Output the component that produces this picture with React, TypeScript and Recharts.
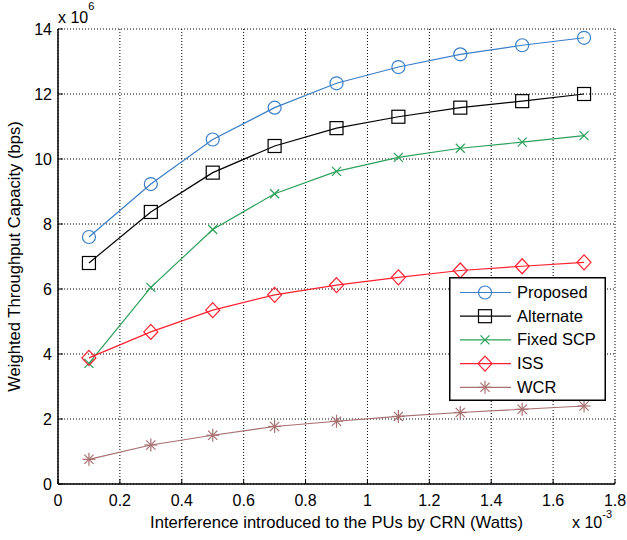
import React from 'react';
import {
    LineChart,
    Line,
    XAxis,
    YAxis,
    CartesianGrid,
} from 'recharts';

const interference = [0.1, 0.3, 0.5, 0.7, 0.9, 1.1, 1.3, 1.5, 1.7];
const proposed = [7.6, 9.23, 10.6, 11.58, 12.33, 12.83, 13.22, 13.5, 13.73];
const alternate = [6.8, 8.37, 9.58, 10.4, 10.95, 11.3, 11.58, 11.78, 12.0];
const fixedScp = [3.71, 6.05, 7.83, 8.93, 9.62, 10.05, 10.33, 10.52, 10.72];
const iss = [3.88, 4.68, 5.35, 5.82, 6.12, 6.36, 6.57, 6.7, 6.82];
const wcr = [0.76, 1.2, 1.5, 1.77, 1.93, 2.08, 2.2, 2.3, 2.4];

const xTicks = [0, 0.2, 0.4, 0.6, 0.8, 1, 1.2, 1.4, 1.6, 1.8];
const yTicks = [0, 2, 4, 6, 8, 10, 12, 14];

const FONT = '"Liberation Sans", Arial, sans-serif';

const series = [
    { key: 'proposed', name: 'Proposed', color: '#3a7fc8', shape: 'circle' },
    { key: 'alternate', name: 'Alternate', color: '#000000', shape: 'square' },
    { key: 'fixedScp', name: 'Fixed SCP', color: '#2ca05a', shape: 'x' },
    { key: 'iss', name: 'ISS', color: '#ff2030', shape: 'diamond' },
    { key: 'wcr', name: 'WCR', color: '#a87070', shape: 'star' },
];

const data = interference.map((x, i) => ({
    x,
    proposed: proposed[i],
    alternate: alternate[i],
    fixedScp: fixedScp[i],
    iss: iss[i],
    wcr: wcr[i],
}));

// marker glyph centred on (cx, cy)
const Marker = ({ shape, cx, cy, color }: { shape: string; cx: number; cy: number; color: string }) => {
    const sw = 1.2;
    if (shape === 'circle') {
        return <circle cx={cx} cy={cy} r={6.5} fill="none" stroke={color} strokeWidth={sw} />;
    }
    if (shape === 'square') {
        return <rect x={cx - 6.5} y={cy - 6.5} width={13} height={13} fill="none" stroke={color} strokeWidth={sw} />;
    }
    if (shape === 'diamond') {
        return (
            <polygon
                points={`${cx},${cy - 7.5} ${cx + 7},${cy} ${cx},${cy + 7.5} ${cx - 7},${cy}`}
                fill="none"
                stroke={color}
                strokeWidth={sw}
            />
        );
    }
    if (shape === 'x') {
        const d = 4.5;
        return (
            <g stroke={color} strokeWidth={sw}>
                <line x1={cx - d} y1={cy - d} x2={cx + d} y2={cy + d} />
                <line x1={cx - d} y1={cy + d} x2={cx + d} y2={cy - d} />
            </g>
        );
    }
    // star: plus and cross together
    const r = 6.5;
    const d = 4.6;
    return (
        <g stroke={color} strokeWidth={sw}>
            <line x1={cx - r} y1={cy} x2={cx + r} y2={cy} />
            <line x1={cx} y1={cy - r} x2={cx} y2={cy + r} />
            <line x1={cx - d} y1={cy - d} x2={cx + d} y2={cy + d} />
            <line x1={cx - d} y1={cy + d} x2={cx + d} y2={cy - d} />
        </g>
    );
};

const makeDot = (shape: string, color: string) => (props: any) => {
    const { cx, cy, index } = props;
    if (cx == null || cy == null) return <g key={`d-${index}`} />;
    return (
        <g key={`${shape}-${index}`}>
            <Marker shape={shape} cx={cx} cy={cy} color={color} />
        </g>
    );
};

const LegendBox = () => {
    const w = 157;
    const h = 124;
    const rowH = 23.7;
    return (
        <svg width={w} height={h} style={{ display: 'block' }}>
            <rect x={0.75} y={0.75} width={w - 1.5} height={h - 1.5} fill="#fff" stroke="#000" strokeWidth={1.5} />
            {series.map((s, i) => {
                const y = 15.5 + i * rowH;
                return (
                    <g key={s.key}>
                        <line x1={11} y1={y} x2={62} y2={y} stroke={s.color} strokeWidth={1.2} />
                        <Marker shape={s.shape} cx={36} cy={y} color={s.color} />
                        <text x={68} y={y + 5.5} fontSize={16.5} fontFamily={FONT} fill="#000">
                            {s.name}
                        </text>
                    </g>
                );
            })}
        </svg>
    );
};

const tickStyle = { fontSize: 16, fontFamily: FONT, fill: '#000' };
const labelStyle = { fontSize: 16.6, fontFamily: FONT, fill: '#000', textAnchor: 'middle' };

export default function App() {
    return (
        <div style={{ position: 'absolute', left: 0, top: 0, width: 627, height: 540, background: '#fff' }}>
            <LineChart
                width={627}
                height={540}
                data={data}
                margin={{ top: 29, right: 12, left: 0, bottom: 0 }}
            >
                <CartesianGrid stroke="#000" strokeDasharray="1 2" strokeWidth={1} />
                <XAxis
                    dataKey="x"
                    type="number"
                    domain={[0, 1.8]}
                    ticks={xTicks}
                    tickFormatter={(v) => String(v)}
                    height={56}
                    tick={tickStyle}
                    tickSize={-5}
                    tickMargin={16}
                    tickLine={{ stroke: '#000' }}
                    axisLine={{ stroke: '#000', strokeWidth: 1.5 }}
                    interval={0}
                    label={{
                        value: 'Interference introduced to the PUs by CRN (Watts)',
                        position: 'insideBottom',
                        offset: 12,
                        style: labelStyle,
                    }}
                />
                <XAxis
                    xAxisId="top"
                    dataKey="x"
                    type="number"
                    orientation="top"
                    domain={[0, 1.8]}
                    ticks={xTicks}
                    tickFormatter={() => ''}
                    height={0}
                    tickSize={-5}
                    tickLine={{ stroke: '#000' }}
                    axisLine={{ stroke: '#000', strokeWidth: 1.5 }}
                    interval={0}
                />
                <YAxis
                    type="number"
                    domain={[0, 14]}
                    ticks={yTicks}
                    width={58}
                    tick={tickStyle}
                    tickSize={-5}
                    tickMargin={11}
                    tickLine={{ stroke: '#000' }}
                    axisLine={{ stroke: '#000', strokeWidth: 1.5 }}
                    interval={0}
                    label={{
                        value: 'Weighted Throughput Capacity (bps)',
                        angle: -90,
                        position: 'insideLeft',
                        offset: 14,
                        style: labelStyle,
                    }}
                />
                <YAxis
                    yAxisId="right"
                    orientation="right"
                    type="number"
                    domain={[0, 14]}
                    ticks={yTicks}
                    width={0}
                    tickFormatter={() => ''}
                    tickSize={-5}
                    tickLine={{ stroke: '#000' }}
                    axisLine={{ stroke: '#000', strokeWidth: 1.5 }}
                    interval={0}
                />
                {series.map((s) => (
                    <Line
                        key={s.key}
                        type="linear"
                        dataKey={s.key}
                        name={s.name}
                        stroke={s.color}
                        strokeWidth={1.2}
                        dot={makeDot(s.shape, s.color)}
                        activeDot={false}
                        isAnimationActive={false}
                    />
                ))}
            </LineChart>
            <div style={{ position: 'absolute', left: 449, top: 277 }}>
                <LegendBox />
            </div>
            <svg
                width={627}
                height={540}
                style={{ position: 'absolute', left: 0, top: 0, pointerEvents: 'none' }}
            >
                <text x={58} y={23} fontSize={16} fontFamily={FONT} fill="#000">
                    x 10
                    <tspan dy={-13} fontSize={11}>6</tspan>
                </text>
                <text x={572} y={528} fontSize={16} fontFamily={FONT} fill="#000">
                    x 10
                    <tspan dy={-10} fontSize={11}>-3</tspan>
                </text>
            </svg>
        </div>
    );
}
